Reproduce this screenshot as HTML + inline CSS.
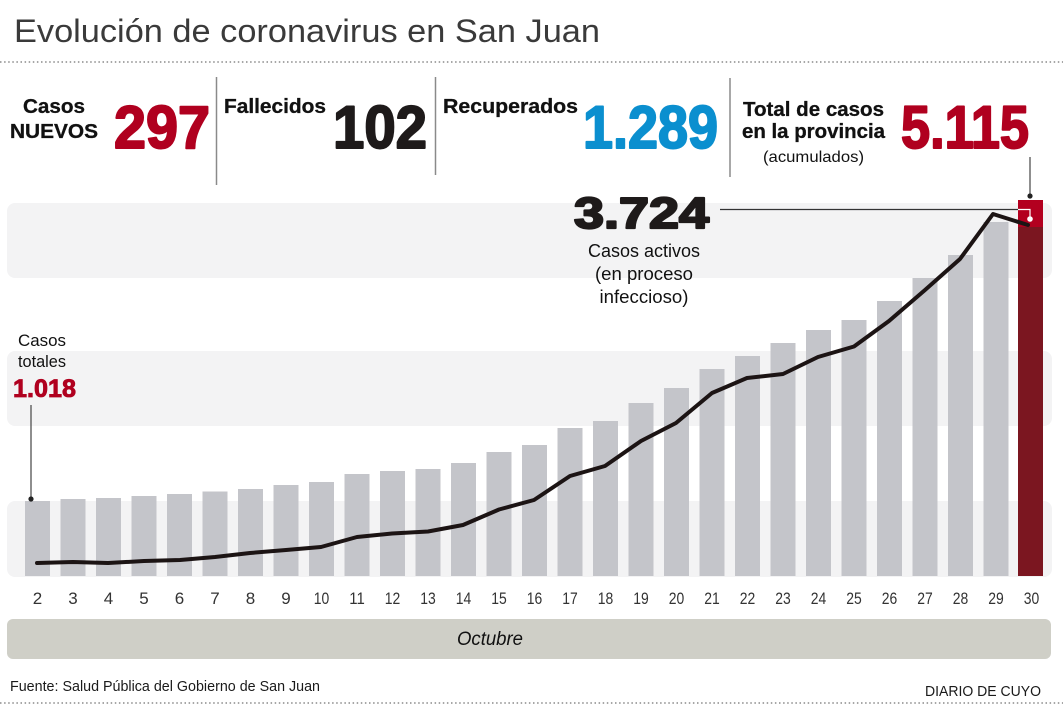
<!DOCTYPE html>
<html><head><meta charset="utf-8"><style>
html,body{margin:0;padding:0;background:#fff;}
svg{display:block;}
text{font-family:"Liberation Sans",Arial,sans-serif;}
</style></head><body>
<svg width="1063" height="709" viewBox="0 0 1063 709" xmlns="http://www.w3.org/2000/svg">
<rect x="0" y="0" width="1063" height="709" fill="#ffffff"/>
<!-- Title -->
<text x="14" y="42" font-size="32" fill="#3a3a3a" textLength="586" lengthAdjust="spacingAndGlyphs">Evolución de coronavirus en San Juan</text>
<line x1="0" y1="62" x2="1063" y2="62" stroke="#8a8a8a" stroke-width="1.5" stroke-dasharray="1.5 2.6"/>

<!-- Stats -->
<g font-weight="bold" font-size="20" fill="#111" stroke="#111" stroke-width="0.3">
<text x="23" y="113" textLength="62" lengthAdjust="spacingAndGlyphs">Casos</text>
<text x="10" y="138" textLength="88" lengthAdjust="spacingAndGlyphs">NUEVOS</text>
<text x="224" y="113" textLength="102" lengthAdjust="spacingAndGlyphs">Fallecidos</text>
<text x="443" y="113" textLength="135" lengthAdjust="spacingAndGlyphs">Recuperados</text>
<text x="743" y="116" textLength="141" lengthAdjust="spacingAndGlyphs">Total de casos</text>
<text x="742" y="138" textLength="143" lengthAdjust="spacingAndGlyphs">en la provincia</text>
</g>
<text x="763" y="162" font-size="16" fill="#111" textLength="101" lengthAdjust="spacingAndGlyphs">(acumulados)</text>
<g font-weight="bold" font-size="60" stroke-width="2" stroke-linejoin="round">
<text x="114" y="148" fill="#b0001f" stroke="#b0001f" textLength="96" lengthAdjust="spacingAndGlyphs">297</text>
<text x="333" y="148" fill="#1e1a1a" stroke="#1e1a1a" textLength="94" lengthAdjust="spacingAndGlyphs">102</text>
<text x="583" y="148" fill="#0b8fcf" stroke="#0b8fcf" textLength="135" lengthAdjust="spacingAndGlyphs">1.289</text>
<text x="901" y="148" fill="#b0001f" stroke="#b0001f" textLength="128" lengthAdjust="spacingAndGlyphs">5.115</text>
</g>
<line x1="216.5" y1="77" x2="216.5" y2="185" stroke="#8a8a8a" stroke-width="1.5"/>
<line x1="435.5" y1="77" x2="435.5" y2="175" stroke="#8a8a8a" stroke-width="1.5"/>
<line x1="730" y1="78" x2="730" y2="177" stroke="#8a8a8a" stroke-width="1.5"/>

<!-- Bands -->
<rect x="7" y="203" width="1045" height="75" rx="8" fill="#f3f3f4"/>
<rect x="7" y="351" width="1045" height="75" rx="8" fill="#f3f3f4"/>
<rect x="7" y="501" width="1045" height="76" rx="8" fill="#f3f3f4"/>

<!-- Bars -->
<g fill="#c4c5ca">
<rect x="25" y="501" width="25" height="75"/>
<rect x="60.5" y="499" width="25" height="77"/>
<rect x="96" y="498" width="25" height="78"/>
<rect x="131.5" y="496" width="25" height="80"/>
<rect x="167" y="494" width="25" height="82"/>
<rect x="202.5" y="491.5" width="25" height="84.5"/>
<rect x="238" y="489" width="25" height="87"/>
<rect x="273.5" y="485" width="25" height="91"/>
<rect x="309" y="482" width="25" height="94"/>
<rect x="344.5" y="474" width="25" height="102"/>
<rect x="380" y="471" width="25" height="105"/>
<rect x="415.5" y="469" width="25" height="107"/>
<rect x="451" y="463" width="25" height="113"/>
<rect x="486.5" y="452" width="25" height="124"/>
<rect x="522" y="445" width="25" height="131"/>
<rect x="557.5" y="428" width="25" height="148"/>
<rect x="593" y="421" width="25" height="155"/>
<rect x="628.5" y="403" width="25" height="173"/>
<rect x="664" y="388" width="25" height="188"/>
<rect x="699.5" y="369" width="25" height="207"/>
<rect x="735" y="356" width="25" height="220"/>
<rect x="770.5" y="343" width="25" height="233"/>
<rect x="806" y="330" width="25" height="246"/>
<rect x="841.5" y="320" width="25" height="256"/>
<rect x="877" y="301" width="25" height="275"/>
<rect x="912.5" y="278" width="25" height="298"/>
<rect x="948" y="255" width="25" height="321"/>
<rect x="983.5" y="222" width="25" height="354"/>
</g>
<rect x="1018" y="200" width="25" height="376" fill="#7b1620"/>
<rect x="1018" y="200" width="25" height="27" fill="#b3001f"/>

<!-- Leaders -->
<line x1="31" y1="405" x2="31" y2="499" stroke="#444" stroke-width="1.2"/>
<circle cx="31" cy="499" r="2.6" fill="#222"/>
<line x1="1030" y1="157" x2="1030" y2="196" stroke="#444" stroke-width="1.2"/>
<circle cx="1030" cy="196" r="2.6" fill="#222"/>
<line x1="720" y1="209.5" x2="1018" y2="209.5" stroke="#333" stroke-width="1.2"/>
<polyline points="1018,209.5 1030,209.5 1030,219" fill="none" stroke="#ffffff" stroke-width="1.2"/>

<!-- Line -->
<polyline fill="none" stroke="#1c1414" stroke-width="4" stroke-linejoin="round" stroke-linecap="round"
points="37,563 73,562 108,563 144,561 180,560 215,557 250,553 286,550 321,547 357,537 392,533.5 428,531.5 463,525 499,509.5 534,500 570,476 605,466 641,441 676,423 712,393 747,378 783,374 818,357 854,346.5 889,321 925,290 960,259 993,214 1028,225"/>
<circle cx="1030" cy="219" r="2.8" fill="#ffffff"/>

<!-- Annotations -->
<text x="18" y="346" font-size="17" fill="#111" textLength="48" lengthAdjust="spacingAndGlyphs">Casos</text>
<text x="18" y="367" font-size="17" fill="#111" textLength="48" lengthAdjust="spacingAndGlyphs">totales</text>
<text x="13" y="397" font-size="25" font-weight="bold" fill="#b0001f" stroke="#b0001f" stroke-width="0.8" textLength="63" lengthAdjust="spacingAndGlyphs">1.018</text>

<text x="574" y="228" font-size="44" font-weight="bold" fill="#1e1a1a" stroke="#1e1a1a" stroke-width="2.2" stroke-linejoin="round" textLength="135" lengthAdjust="spacingAndGlyphs">3.724</text>
<g font-size="18" fill="#111" text-anchor="middle">
<text x="644" y="257" textLength="112" lengthAdjust="spacingAndGlyphs">Casos activos</text>
<text x="644" y="280" textLength="98" lengthAdjust="spacingAndGlyphs">(en proceso</text>
<text x="644" y="303" textLength="89" lengthAdjust="spacingAndGlyphs">infeccioso)</text>
</g>

<!-- X labels -->
<g font-size="17" fill="#333" text-anchor="middle">
<text x="37.5" y="604">2</text>
<text x="73" y="604">3</text>
<text x="108.5" y="604">4</text>
<text x="144" y="604">5</text>
<text x="179.5" y="604">6</text>
<text x="215" y="604">7</text>
<text x="250.5" y="604">8</text>
<text x="286" y="604">9</text>
<text x="321.5" y="604" textLength="15.5" lengthAdjust="spacingAndGlyphs">10</text>
<text x="357" y="604" textLength="15.5" lengthAdjust="spacingAndGlyphs">11</text>
<text x="392.5" y="604" textLength="15.5" lengthAdjust="spacingAndGlyphs">12</text>
<text x="428" y="604" textLength="15.5" lengthAdjust="spacingAndGlyphs">13</text>
<text x="463.5" y="604" textLength="15.5" lengthAdjust="spacingAndGlyphs">14</text>
<text x="499" y="604" textLength="15.5" lengthAdjust="spacingAndGlyphs">15</text>
<text x="534.5" y="604" textLength="15.5" lengthAdjust="spacingAndGlyphs">16</text>
<text x="570" y="604" textLength="15.5" lengthAdjust="spacingAndGlyphs">17</text>
<text x="605.5" y="604" textLength="15.5" lengthAdjust="spacingAndGlyphs">18</text>
<text x="641" y="604" textLength="15.5" lengthAdjust="spacingAndGlyphs">19</text>
<text x="676.5" y="604" textLength="15.5" lengthAdjust="spacingAndGlyphs">20</text>
<text x="712" y="604" textLength="15.5" lengthAdjust="spacingAndGlyphs">21</text>
<text x="747.5" y="604" textLength="15.5" lengthAdjust="spacingAndGlyphs">22</text>
<text x="783" y="604" textLength="15.5" lengthAdjust="spacingAndGlyphs">23</text>
<text x="818.5" y="604" textLength="15.5" lengthAdjust="spacingAndGlyphs">24</text>
<text x="854" y="604" textLength="15.5" lengthAdjust="spacingAndGlyphs">25</text>
<text x="889.5" y="604" textLength="15.5" lengthAdjust="spacingAndGlyphs">26</text>
<text x="925" y="604" textLength="15.5" lengthAdjust="spacingAndGlyphs">27</text>
<text x="960.5" y="604" textLength="15.5" lengthAdjust="spacingAndGlyphs">28</text>
<text x="996" y="604" textLength="15.5" lengthAdjust="spacingAndGlyphs">29</text>
<text x="1031.5" y="604" textLength="15.5" lengthAdjust="spacingAndGlyphs">30</text>
</g>

<!-- Month band -->
<rect x="7" y="619" width="1044" height="40" rx="6" fill="#cfcfc7"/>
<text x="457" y="645" font-size="19" font-style="italic" fill="#111" textLength="66" lengthAdjust="spacingAndGlyphs">Octubre</text>

<!-- Footer -->
<text x="10" y="691" font-size="15" fill="#1a1a1a" textLength="310" lengthAdjust="spacingAndGlyphs">Fuente: Salud Pública del Gobierno de San Juan</text>
<text x="925" y="696" font-size="15" fill="#1a1a1a" textLength="116" lengthAdjust="spacingAndGlyphs">DIARIO DE CUYO</text>
<line x1="0" y1="703" x2="1063" y2="703" stroke="#8a8a8a" stroke-width="1.5" stroke-dasharray="1.5 2.6"/>
</svg>
</body></html>
